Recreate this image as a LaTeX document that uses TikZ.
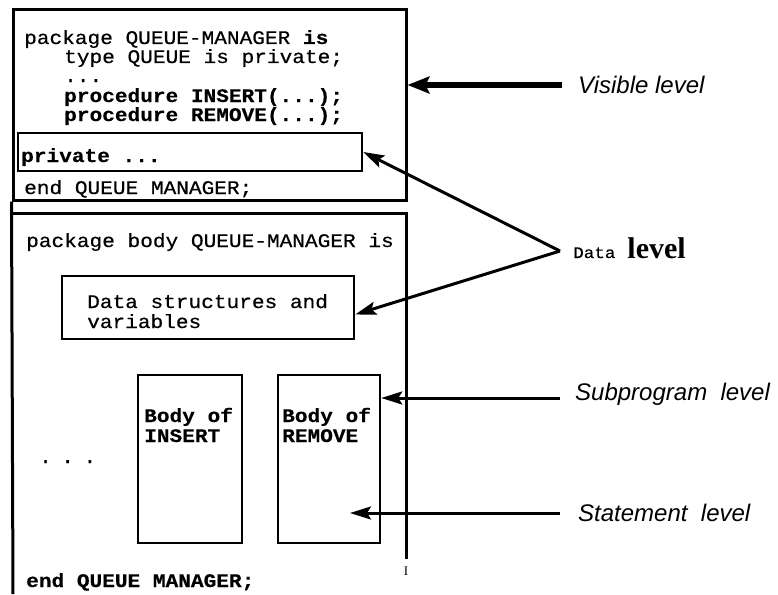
\documentclass[tikz,border=0pt]{standalone}
\usepackage{fontspec}
\newfontfamily\code[FakeStretch=1.1, UprightFeatures={FakeBold=0.5}, BoldFeatures={FakeBold=0.3}]{Liberation Mono}
\newfontfamily\lab{Liberation Sans}
\newfontfamily\ser{Liberation Serif}
\usetikzlibrary{arrows.meta}
\begin{document}
\begin{tikzpicture}[x=1pt,y=-1pt,
 txt/.style={anchor=base west, inner sep=0pt, font=\code\fontsize{19.2}{19}\selectfont},
 btxt/.style={anchor=base west, inner sep=0pt, font=\code\bfseries\fontsize{19.2}{19}\selectfont},
 box/.style={draw, line width=2.5pt, inner sep=0pt},
 frame/.style={line width=3pt},
 lvl/.style={anchor=base west, inner sep=0pt, font=\lab\itshape\fontsize{24}{24}\selectfont},
 arr/.style={line width=3pt, -{Stealth[length=21pt,width=13pt,inset=4pt]}},
 thickarr/.style={line width=6pt, -{Stealth[length=22pt,width=17pt,inset=4pt]}},
]
\useasboundingbox (0,0) rectangle (778,594);
% frames
\node[box, line width=3pt, minimum width=393pt, minimum height=190pt] (vis) at (209.5,105) {};
\coordinate (btl) at (13,213);
\coordinate (btr) at (406,213);
\coordinate (bbr) at (406,559);
\coordinate (bbl) at (13,594);
\draw[frame] (vis.south west) -- (bbl);
\draw[frame] (btl) -- (btr) -- (bbr);
% inner boxes
\node[box, minimum width=344pt, minimum height=38pt] (priv) at (190,152) {};
\node[box, minimum width=292pt, minimum height=63pt] (dsb) at (208,307.5) {};
\node[box, minimum width=104pt, minimum height=168pt] (ins) at (190,459) {};
\node[box, minimum width=102pt, minimum height=168pt] (rem) at (329,459) {};
% code text
\node[txt] (t1) at (24,44) {package QUEUE-MANAGER \textbf{is}};
\node[txt] (t2) at (64,63) {type QUEUE is private;};
\node[txt] (t3) at (64,82) {...};
\node[btxt] (t4) at (64,102) {procedure INSERT(...);};
\node[btxt] (t5) at (64,121) {procedure REMOVE(...);};
\node[btxt] (t6) at (21,162) {private ...};
\node[txt] (t7) at (24,194) {end QUEUE MANAGER;};
\node[txt] (b1) at (26,247) {package body QUEUE-MANAGER is};
\node[txt] (d1) at (87,308) {Data structures and};
\node[txt] (d2) at (87,328) {variables};
\node[btxt] (i1) at (144,422) {Body of};
\node[btxt] (i2) at (144,442) {INSERT};
\node[btxt] (r1) at (282,422) {Body of};
\node[btxt] (r2) at (282,442) {REMOVE};
\node[txt] (dots) at (39,463) {.\hspace{9.5pt}.\hspace{9.5pt}.};
\node[btxt] (e2) at (26,587) {end QUEUE MANAGER;};
\node[inner sep=0pt, font=\ser\fontsize{13}{13}\selectfont] (tick) at (406,571) {I};
% level labels
\node[lvl] (visl) at (578,93) {Visible level};
\node[anchor=base west, inner sep=0pt] (datl) at (573,258)
  {{\code\fontsize{16}{16}\selectfont Data}\hspace{12pt}{\ser\bfseries\fontsize{30}{30}\selectfont level}};
\node[lvl] (subl) at (575,400) {Subprogram\ \ level};
\node[lvl] (stl) at (578,521) {Statement\ \ level};
% arrows
\coordinate (vtail) at (562,85);
\draw[thickarr] (vtail) -- (vis.east |- vtail);
\coordinate (apex) at (560,251);
\draw[arr] (apex) -- (priv.east);
\draw[arr] (apex) -- ([yshift=-7pt]dsb.east);
\coordinate (stail) at (560,398);
\draw[arr] (stail) -- (rem.east |- stail);
\coordinate (ttail) at (560,513);
\coordinate (ttip) at (350,513);
\draw[arr] (ttail) -- (ttip);
\end{tikzpicture}
\end{document}
